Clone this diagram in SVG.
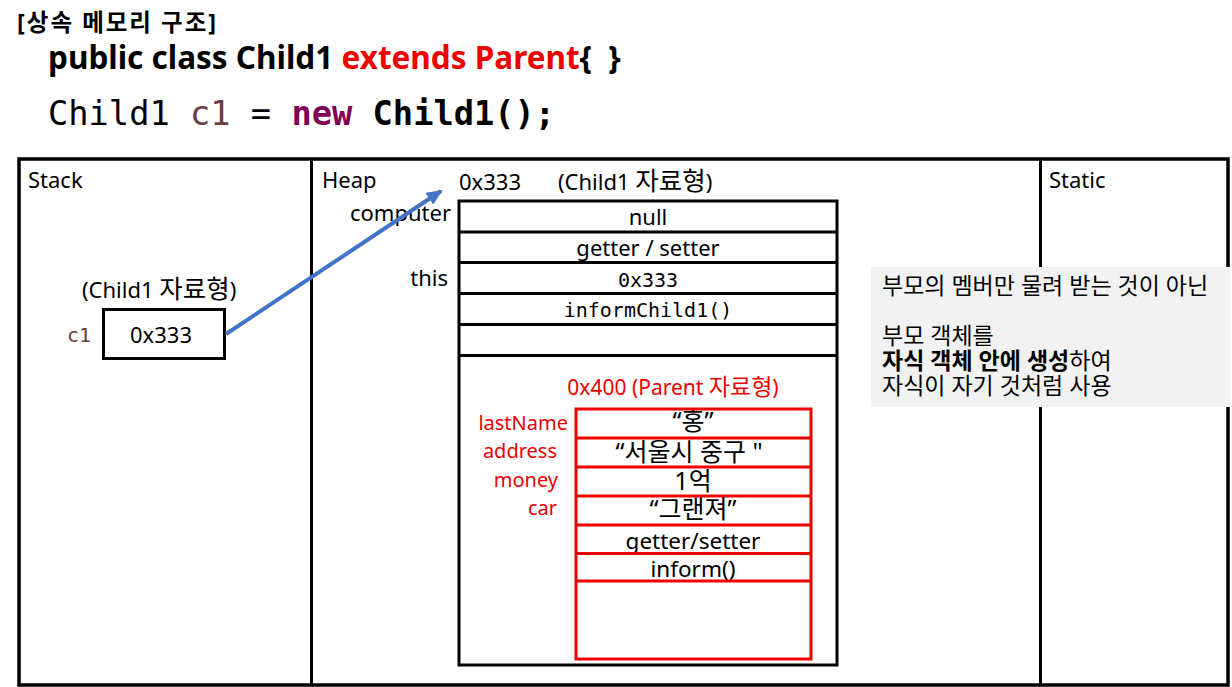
<svg xmlns="http://www.w3.org/2000/svg" width="1232" height="687" viewBox="0 0 1232 687">
<style>
.t{font-family:"Noto Sans","Noto Sans CJK KR",sans-serif;font-size:22px}
.m{font-family:"DejaVu Sans Mono","Liberation Mono",monospace;font-size:20px}
.k{font-size:25.5px}
.r{fill:#EE0000}
.s20{font-size:20px}
.c{text-anchor:middle}
.e{text-anchor:end}
.bk{fill:none;stroke:#000;stroke-width:3}
.rd{fill:none;stroke:#EE0000;stroke-width:3}
</style>
<defs>
<marker id="ah" markerWidth="16" markerHeight="14" refX="14" refY="7" orient="auto" markerUnits="userSpaceOnUse" viewBox="0 0 16 14">
<path d="M0,0 L16,7 L0,14 z" fill="#4472C4"/>
</marker>
</defs>
<rect width="1232" height="687" fill="#fff"/>
<g id="header">
<text class="t" x="17" y="31" style="font-size:23.5px;font-weight:bold;letter-spacing:2px">[상속 메모리 구조]</text>
<text class="t" x="48" y="69" style="font-size:31.5px;font-weight:bold">public class Child1 <tspan class="r">extends Parent</tspan>{&#160; }</text>
<text class="m" x="48" y="125" style="font-size:33.7px">Child1 <tspan fill="#6A3E3E">c1</tspan> = <tspan fill="#7F0055" font-weight="bold">new</tspan> <tspan font-weight="bold">Child1();</tspan></text>
</g>
<g id="frame">
<rect x="19" y="159" width="1209" height="526" fill="none" stroke="#000" stroke-width="3.5"/>
<line x1="311.5" y1="159" x2="311.5" y2="685" stroke="#000" stroke-width="3"/>
<line x1="1040.5" y1="159" x2="1040.5" y2="685" stroke="#000" stroke-width="3"/>
<text class="t" x="28" y="188">Stack</text>
<text class="t" x="322" y="188">Heap</text>
<text class="t" x="1049" y="188">Static</text>
</g>
<g id="stack-c1">
<text class="t" x="82" y="298">(Child1 <tspan class="k">자료형</tspan>)</text>
<text class="m" x="67" y="342" style="fill:#6A3E3E">c1</text>
<rect class="bk" x="103.5" y="309.5" width="121" height="49" stroke-width="3.5"/>
<text class="t c" x="161" y="343">0x333</text>
</g>
<g id="child1-object">
<text class="t" x="459" y="190">0x333</text>
<text class="t" x="558" y="190">(Child1 <tspan class="k">자료형</tspan>)</text>
<text class="t e" x="451" y="221">computer</text>
<text class="t e" x="448" y="286">this</text>
<rect class="bk" x="459" y="201" width="378" height="464"/>
<line class="bk" x1="459" y1="232" x2="837" y2="232"/>
<line class="bk" x1="459" y1="262.5" x2="837" y2="262.5"/>
<line class="bk" x1="459" y1="293.5" x2="837" y2="293.5"/>
<line class="bk" x1="459" y1="324.5" x2="837" y2="324.5"/>
<line class="bk" x1="459" y1="355.5" x2="837" y2="355.5"/>
<text class="t c" x="648" y="225">null</text>
<text class="t c" x="648" y="256">getter / setter</text>
<text class="m c" x="648" y="287">0x333</text>
<text class="m c" x="648" y="317">informChild1()</text>
</g>
<g id="parent-object">
<text class="t r c" x="673" y="395" style="font-size:21px">0x400 (Parent <tspan style="font-size:23px">자료형</tspan>)</text>
<text class="t r e s20" x="568" y="430">lastName</text>
<text class="t r e s20" x="557" y="458">address</text>
<text class="t r e s20" x="558" y="487">money</text>
<text class="t r e s20" x="557" y="515">car</text>
<text class="t c" x="693" y="430" style="font-size:25px">“홍”</text>
<text class="t c" x="689" y="461" style="font-size:25px">“서울시 중구 "</text>
<text class="t c" x="693" y="490" style="font-size:25px">1억</text>
<text class="t c" x="693" y="518" style="font-size:25px">“그랜져”</text>
<text class="t c" x="693" y="549" style="font-size:22.5px">getter/setter</text>
<text class="t c" x="693" y="577" style="font-size:22.5px">inform()</text>
<rect class="rd" x="576" y="409" width="235" height="250"/>
<line class="rd" x1="576" y1="438" x2="811" y2="438"/>
<line class="rd" x1="576" y1="467" x2="811" y2="467"/>
<line class="rd" x1="576" y1="496" x2="811" y2="496"/>
<line class="rd" x1="576" y1="525" x2="811" y2="525"/>
<line class="rd" x1="576" y1="553.5" x2="811" y2="553.5" stroke-width="4"/>
<line class="rd" x1="576" y1="581" x2="811" y2="581"/>
</g>
<g id="note">
<rect x="871" y="267" width="359" height="140" fill="#F2F2F2"/>
<text class="t" x="882" y="294" style="font-size:23px">부모의 멤버만 물려 받는 것이 아닌</text>
<text class="t" x="882" y="344" style="font-size:23px">부모 객체를</text>
<text class="t" x="882" y="369" style="font-size:23px"><tspan font-weight="bold">자식 객체 안에 생성</tspan>하여</text>
<text class="t" x="882" y="394" style="font-size:23px">자식이 자기 것처럼 사용</text>
</g>
<g id="connectors">
<line x1="226" y1="334" x2="441" y2="191" stroke="#4472C4" stroke-width="4" marker-end="url(#ah)"/>
</g>
</svg>
